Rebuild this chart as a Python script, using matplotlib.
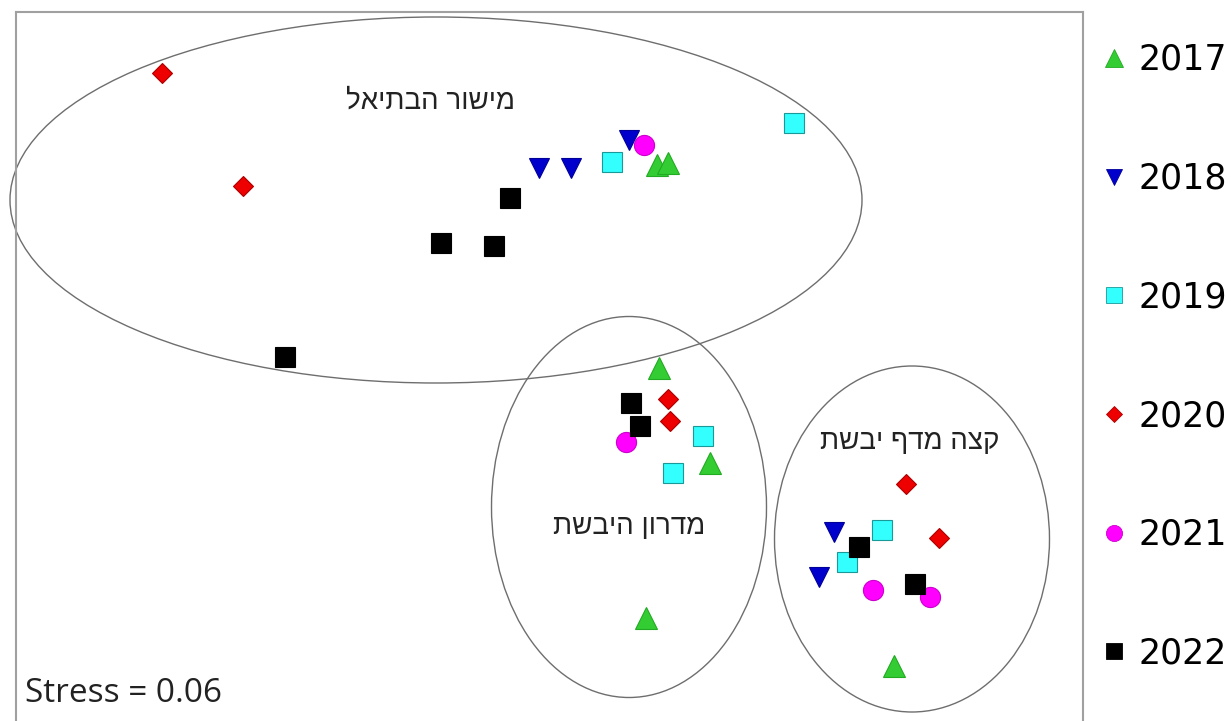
import matplotlib
matplotlib.use('Agg')
import matplotlib.pyplot as plt
from matplotlib.patches import Ellipse
from matplotlib.lines import Line2D

# NMDS ordination scores (plot units)
years = ['2017', '2018', '2019', '2020', '2021', '2022']
x_2017 = [657, 668, 659, 710, 646, 894]
y_2017 = [165, 163, 368, 463, 618, 666]
x_2018 = [539, 571, 629, 834, 819]
y_2018 = [168, 168, 140, 532, 577]
x_2019 = [794, 612, 703, 673, 882, 847]
y_2019 = [123, 162, 436, 473, 530, 562]
x_2020 = [162, 243, 668, 670, 906, 939]
y_2020 = [73, 186, 399, 421, 484, 538]
x_2021 = [644, 626, 873, 930]
y_2021 = [145, 442, 590, 597]
x_2022 = [510, 441, 494, 285, 631, 640, 859, 915]
y_2022 = [198, 243, 246, 357, 403, 426, 547, 584]

# group ellipses: centre x, centre y, width, height
groups = ['מישור הבתיאל', 'מדרון היבשת', 'קצה מדף יבשת']
ell_x = [436, 629, 912]
ell_y = [200, 507, 539]
ell_w = [852, 275, 275]
ell_h = [366, 381, 346]
lab_x = [431, 629, 910]
lab_y = [102, 527, 442]

xs = [x_2017, x_2018, x_2019, x_2020, x_2021, x_2022]
ys = [y_2017, y_2018, y_2019, y_2020, y_2021, y_2022]
markers = ['^', 'v', 's', 'D', 'o', 's']
sizes = [15.5, 14.5, 15, 10.5, 14.5, 15]
faces = ['#33cc33', '#0000cc', '#33ffff', '#ee0000', '#ff00ff', '#000000']
edges = ['#22aa22', '#000099', '#1a9999', '#aa0000', '#cc00cc', '#000000']

plt.rcParams['font.family'] = ['Liberation Sans', 'DejaVu Sans']

W, H = 1231, 721
fig = plt.figure(figsize=(W / 100, H / 100), dpi=100)
ax = fig.add_axes([16 / W, 0, (1083 - 16) / W, (721 - 12) / H])
ax.set_xlim(16, 1083)
ax.set_ylim(721, 12)
ax.set_xticks([])
ax.set_yticks([])
for s in ['top', 'left', 'right']:
    ax.spines[s].set_color('#a0a0a0')
    ax.spines[s].set_linewidth(1.5)
ax.spines['bottom'].set_visible(False)

for cx, cy, w, h in zip(ell_x, ell_y, ell_w, ell_h):
    ax.add_patch(Ellipse((cx, cy), w, h, fill=False, edgecolor='#6e6e6e',
                         linewidth=1.0, clip_on=False, zorder=1))

for g, lx, ly in zip(groups, lab_x, lab_y):
    # matplotlib draws left to right, so reverse the Hebrew string
    ax.text(lx, ly, g[::-1], ha='center', va='center', fontsize=20, color='#222222')

for x, y, m, ms, fc, ec in zip(xs, ys, markers, sizes, faces, edges):
    ax.plot(x, y, linestyle='none', marker=m, markersize=ms, markerfacecolor=fc,
            markeredgecolor=ec, markeredgewidth=0.8, zorder=3)

ax.text(25, 693, 'Stress = 0.06', ha='left', va='center', fontsize=24,
        family=['Open Sans', 'DejaVu Sans'], color='#222222')

handles = [Line2D([], [], linestyle='none', marker=m, markersize=ms * 0.8,
                  markerfacecolor=fc, markeredgecolor=ec, markeredgewidth=0.6)
           for m, ms, fc, ec in zip(markers, sizes, faces, edges)]
fig.legend(handles, years, loc='upper left', bbox_to_anchor=(1104 / W, 1 - 43 / H),
           frameon=False, handlelength=0.6, handletextpad=0.4,
           labelspacing=2.44, borderaxespad=0, borderpad=0,
           prop={'family': ['DejaVu Sans'], 'size': 25})

fig.savefig('out.png', dpi=100)
